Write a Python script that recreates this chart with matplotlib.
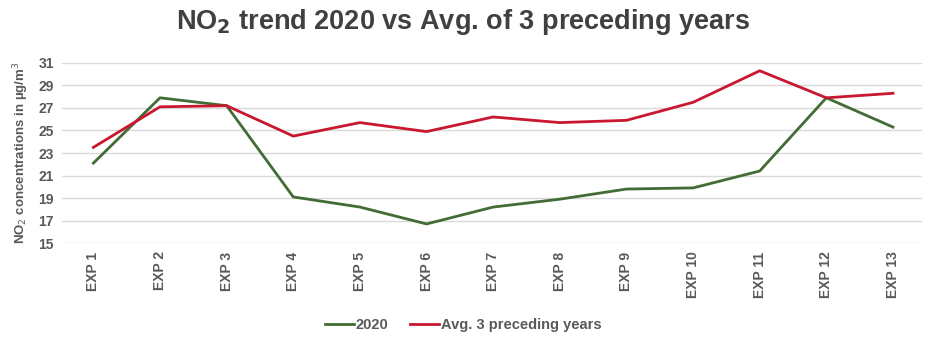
import matplotlib.pyplot as plt

plt.rcParams['font.family'] = ['Liberation Sans', 'DejaVu Sans']

# sampling campaigns
campaigns = [f'EXP {i}' for i in range(1, 14)]
no2_2020 = [22.1, 27.9, 27.2, 19.1, 18.2, 16.7, 18.2, 18.9, 19.8, 19.9, 21.4, 27.9, 25.3]
no2_prev_avg = [23.5, 27.1, 27.2, 24.5, 25.7, 24.9, 26.2, 25.7, 25.9, 27.5, 30.3, 27.9, 28.3]
y_ticks = list(range(15, 32, 2))

text_col = '#595959'

fig = plt.figure(figsize=(9.26, 3.40), dpi=100)
ax = fig.add_axes([0.067, 0.285, 0.929, 0.53])

x = range(len(campaigns))
ax.plot(x, no2_2020, color='#426b35', lw=2.0, label='2020')
ax.plot(x, no2_prev_avg, color='#c8172f', lw=2.0, label='Avg. 3 preceding years')

ax.set_ylim(15, 31)
ax.set_xlim(-0.47, 12.44)
ax.set_yticks(y_ticks)
ax.set_xticks(list(x))
ax.set_xticklabels(campaigns, rotation=90)
ax.tick_params(axis='both', length=0, labelsize=10, labelcolor=text_col, pad=6)
for lbl in ax.get_xticklabels() + ax.get_yticklabels():
    lbl.set_fontweight('bold')

ax.grid(axis='y', color='#d9d9d9', lw=1)
ax.set_axisbelow(True)
for s in ax.spines.values():
    s.set_visible(False)

ax.set_ylabel('NO$_2$ concentrations in µg/m$^3$', fontsize=9.5, fontweight='bold',
              color=text_col, labelpad=5)

fig.text(0.5, 0.935, 'NO$_\\mathbf{2}$ trend 2020 vs Avg. of 3 preceding years',
         ha='center', va='center', fontsize=19.5, fontweight='bold', color='#404040')

fig.legend(loc='center', bbox_to_anchor=(0.5, 0.045), ncol=2, frameon=False,
           prop={'size': 10.5, 'weight': 'bold'}, handlelength=2.0, handletextpad=0.1,
           columnspacing=1.5, labelcolor=text_col)

fig.savefig('out.png', dpi=100)
